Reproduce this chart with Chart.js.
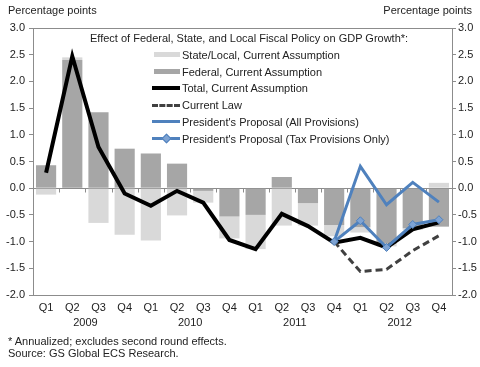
<!DOCTYPE html>
<html>
<head>
<meta charset="utf-8">
<script src="https://cdn.jsdelivr.net/npm/chart.js@4/dist/chart.umd.min.js"></script>
<style>
  body { margin: 0; background: #fff; }
  #wrap { position: relative; width: 480px; height: 367px; font-family: "Liberation Sans", Arial, sans-serif; color: #222; }
  #wrap canvas { display: block; }
  .txt { position: absolute; font-size: 11px; white-space: nowrap; }
  #legend { position: absolute; left: 0; top: 0; font-size: 11px; }
  #legend .row { position: absolute; left: 152px; height: 14px; white-space: nowrap; }
  #legend .sw { position: absolute; left: 0; width: 28px; top: 7px; }
  #legend .lab { position: absolute; left: 30px; top: 0; line-height: 14px; }
</style>
</head>
<body>
<div id="wrap">
  <canvas id="chart" width="480" height="367"></canvas>
  <div class="txt" style="left:8px; top:4px;">Percentage points</div>
  <div class="txt" style="right:8px; top:4px;">Percentage points</div>
  <div id="legend"></div>
  <div class="txt" style="left:8px; top:335px;">* Annualized; excludes second round effects.</div>
  <div class="txt" style="left:8px; top:347px;">Source: GS Global ECS Research.</div>
</div>
<script>
  /*  data  */
  var quarters = ['Q1', 'Q2', 'Q3', 'Q4', 'Q1', 'Q2', 'Q3', 'Q4', 'Q1', 'Q2', 'Q3', 'Q4', 'Q1', 'Q2', 'Q3', 'Q4'];
  var years = ['2009', '2010', '2011', '2012'];
  var yTicks = [-2.0, -1.5, -1.0, -0.5, 0.0, 0.5, 1.0, 1.5, 2.0, 2.5, 3.0];

  var federal    = [0.43, 2.40, 1.42, 0.74, 0.65, 0.46, -0.05, -0.53, -0.50, 0.21, -0.28, -0.69, -0.73, -1.04, -0.75, -0.72];
  var stateLocal = [-0.12, 0.05, -0.65, -0.87, -0.98, -0.51, -0.22, -0.41, -0.64, -0.70, -0.42, -0.21, -0.10, -0.05, -0.03, 0.10];
  var total      = [0.29, 2.47, 0.77, -0.10, -0.33, -0.05, -0.27, -0.97, -1.14, -0.48, -0.71, -1.02, -0.93, -1.11, -0.77, -0.64];
  var currentLaw = [null, null, null, null, null, null, null, null, null, null, null, -1.00, -1.56, -1.52, -1.17, -0.89];
  var presAll    = [null, null, null, null, null, null, null, null, null, null, null, -1.00, 0.41, -0.31, 0.11, -0.26];
  var presTax    = [null, null, null, null, null, null, null, null, null, null, null, -1.00, -0.61, -1.11, -0.68, -0.59];

  var legendTitle = 'Effect of Federal, State, and Local Fiscal Policy on GDP Growth*:';
  var legendOrder = [5, 4, 3, 2, 1, 0]; // dataset index per legend row

  var blue = '#4f81bd';
  var axisGray = '#8c8c8c';
  var tickFont = { family: 'Liberation Sans', size: 11 };

  // zero line with small ticks between the quarters
  var zeroLine = {
    id: 'zeroLine',
    beforeDatasetsDraw: function (chart) {
      var c = chart.ctx, x = chart.scales.x, y = chart.scales.y;
      var y0 = Math.round(y.getPixelForValue(0)) + 0.5;
      c.save();
      c.strokeStyle = axisGray;
      c.lineWidth = 1;
      c.beginPath();
      c.moveTo(chart.chartArea.left, y0);
      c.lineTo(chart.chartArea.right, y0);
      for (var i = 1; i < quarters.length; i++) {
        var px = Math.round((x.getPixelForValue(i - 1) + x.getPixelForValue(i)) / 2) + 0.5;
        c.moveTo(px, y0);
        c.lineTo(px, y0 + 4);
      }
      c.stroke();
      c.restore();
    }
  };

  var ctx = document.getElementById('chart');
  var chart = new Chart(ctx, {
    type: 'bar',
    data: {
      labels: quarters,
      datasets: [{
        label: "President's Proposal (Tax Provisions Only)",
        type: 'line', data: presTax, stack: 'tax', order: 0,
        borderColor: blue, borderWidth: 3, tension: 0,
        pointStyle: 'rectRot', pointRadius: 4, pointBackgroundColor: '#7ea3d3', pointBorderColor: blue, pointBorderWidth: 1
      }, {
        label: "President's Proposal (All Provisions)",
        type: 'line', data: presAll, stack: 'all', order: 0,
        borderColor: blue, borderWidth: 3, tension: 0, pointRadius: 0
      }, {
        label: 'Current Law',
        type: 'line', data: currentLaw, stack: 'law', order: 1,
        borderColor: '#404040', borderWidth: 3, borderDash: [7, 4], tension: 0, pointRadius: 0
      }, {
        label: 'Total, Current Assumption',
        type: 'line', data: total, stack: 'total', order: 2,
        borderColor: '#000', borderWidth: 4, tension: 0, pointRadius: 0, borderJoinStyle: 'miter'
      }, {
        label: 'Federal, Current Assumption',
        data: federal, stack: 'bars', order: 3,
        backgroundColor: '#a6a6a6', barPercentage: 0.77, categoryPercentage: 1
      }, {
        label: 'State/Local, Current Assumption',
        data: stateLocal, stack: 'bars', order: 3,
        backgroundColor: '#d9d9d9', barPercentage: 0.77, categoryPercentage: 1
      }]
    },
    options: {
      responsive: false,
      animation: false,
      layout: { padding: { top: 28, bottom: 38, left: 0, right: 0 } },
      plugins: { legend: { display: false }, tooltip: { enabled: false } },
      scales: {
        x: {
          stacked: true,
          grid: { display: false, drawTicks: false },
          border: { color: axisGray },
          ticks: { color: '#222', padding: 6, font: tickFont },
          afterFit: function (s) { s.height = 20; }
        },
        x2: {
          type: 'category', labels: years, position: 'bottom', offset: true,
          grid: { display: false, drawTicks: false }, border: { display: false },
          ticks: { color: '#222', padding: 1, font: tickFont },
          afterFit: function (s) { s.height = 14; }
        },
        y: {
          stacked: true, min: -2, max: 3,
          afterBuildTicks: function (s) { s.ticks = yTicks.map(function (v) { return { value: v }; }); },
          ticks: { color: '#222', padding: 4, font: tickFont,
            callback: function (v) { return v.toFixed(1); } },
          grid: {
            tickLength: 4, tickColor: axisGray,
            color: function (c) { return c.tick && c.tick.value === 3 ? axisGray : 'rgba(0,0,0,0)'; }
          },
          border: { color: axisGray },
          afterFit: function (s) { s.width = 33; }
        },
        y2: {
          position: 'right', min: -2, max: 3,
          afterBuildTicks: function (s) { s.ticks = yTicks.map(function (v) { return { value: v }; }); },
          ticks: { color: '#222', padding: 2, font: tickFont,
            callback: function (v) { return v.toFixed(1); } },
          grid: { drawOnChartArea: false, tickLength: 4, tickColor: axisGray },
          border: { color: axisGray },
          afterFit: function (s) { s.width = 28; }
        }
      }
    },
    plugins: [zeroLine]
  });

  // legend inside the plot area, built from the datasets
  var leg = document.getElementById('legend');
  var t = document.createElement('div');
  t.className = 'txt';
  t.style.left = '90px';
  t.style.top = '32px';
  t.textContent = legendTitle;
  leg.appendChild(t);
  legendOrder.forEach(function (di, k) {
    var ds = chart.data.datasets[di];
    var row = document.createElement('div');
    row.className = 'row';
    row.style.top = (48 + k * 16.7) + 'px';
    var sw = document.createElement('div');
    sw.className = 'sw';
    if (ds.type === 'line') {
      sw.style.borderTop = ds.borderWidth + 'px ' + (ds.borderDash ? 'dashed' : 'solid') + ' ' + ds.borderColor;
      sw.style.marginTop = (-ds.borderWidth / 2) + 'px';
      if (ds.pointRadius) {
        var d = document.createElement('div');
        d.style.cssText = 'position:absolute;left:11px;width:5px;height:5px;transform:rotate(45deg);' +
          'background:' + ds.pointBackgroundColor + ';border:1px solid ' + ds.pointBorderColor + ';top:' + (-ds.borderWidth / 2 - 3.5) + 'px;';
        sw.appendChild(d);
      }
    } else {
      sw.style.height = '5px';
      sw.style.marginTop = '-3px';
      sw.style.left = '2px';
      sw.style.width = '26px';
      sw.style.background = ds.backgroundColor;
    }
    var lab = document.createElement('div');
    lab.className = 'lab';
    lab.textContent = ds.label;
    row.appendChild(sw);
    row.appendChild(lab);
    leg.appendChild(row);
  });
</script>
</body>
</html>
